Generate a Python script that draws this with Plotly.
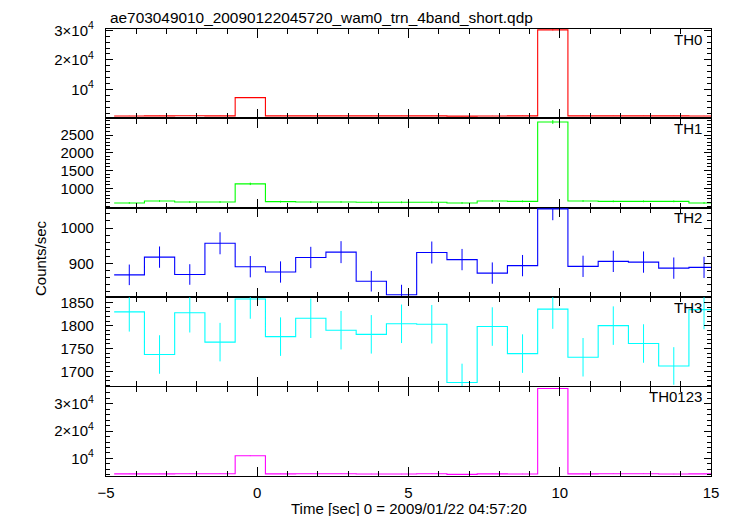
import numpy as np
import plotly.graph_objects as go

# ---------------- data ----------------
title_text = "ae703049010_20090122045720_wam0_trn_4band_short.qdp"
bin_width = 1.0
time_centers = [-4.23, -3.23, -2.23, -1.23, -0.23, 0.77, 1.77, 2.77, 3.77, 4.77,
                5.77, 6.77, 7.77, 8.77, 9.77, 10.77, 11.77, 12.77, 13.77, 14.77]

th0 = [1040, 1050, 1080, 1050, 7240, 1060, 1050, 1050, 1070, 1050,
       1050, 980, 1040, 1050, 30150, 1060, 1050, 1060, 1050, 1040]
th0_err = [32, 32, 33, 32, 85, 33, 32, 32, 33, 32, 32, 31, 32, 32, 174, 33, 32, 33, 32, 32]

th1 = [589, 643, 616, 616, 1125, 625, 616, 616, 607, 607,
       607, 589, 643, 634, 2866, 643, 634, 634, 634, 589]
th1_err = [24, 25, 25, 25, 34, 25, 25, 25, 25, 25, 25, 24, 25, 25, 54, 25, 25, 25, 25, 24]

th2 = [868, 918, 869, 957, 891, 876, 917, 932, 850, 812,
       931, 911, 873, 894, 1054, 892, 906, 904, 887, 889]
th2_err = [29, 30, 29, 31, 30, 30, 30, 31, 29, 28, 31, 30, 30, 30, 32, 30, 30, 30, 30, 30]

th3 = [1830, 1737, 1828, 1764, 1858, 1776, 1816, 1790, 1781, 1804,
       1803, 1676, 1798, 1739, 1836, 1731, 1800, 1761, 1712, 1835]
th3_err = [43, 42, 43, 42, 43, 42, 43, 42, 42, 42, 42, 41, 42, 42, 43, 42, 42, 42, 41, 43]

th0123 = [4327, 4348, 4393, 4387, 10950, 4337, 4399, 4388, 4308, 4273,
          4391, 4156, 4354, 4317, 35600, 4326, 4390, 4359, 4283, 4353]
th0123_err = [66, 66, 66, 66, 105, 66, 66, 66, 66, 65, 66, 64, 66, 66, 189, 66, 66, 66, 65, 66]

panel_names = ["TH0", "TH1", "TH2", "TH3", "TH0123"]
panel_values = [th0, th1, th2, th3, th0123]
panel_errors = [th0_err, th1_err, th2_err, th3_err, th0123_err]
panel_colors = ["#ff0000", "#00ff00", "#0000ff", "#00ffff", "#ff00ff"]
panel_ranges = [[207, 30450], [452, 2967], [805, 1057], [1667, 1862], [3560, 36290]]
panel_tickvals = [[10000, 20000, 30000], [1000, 1500, 2000, 2500], [900, 1000],
                  [1700, 1750, 1800, 1850], [10000, 20000, 30000]]
panel_ticktext = [["10<sup>4</sup>", "2×10<sup>4</sup>", "3×10<sup>4</sup>"],
                  ["1000", "1500", "2000", "2500"], ["900", "1000"],
                  ["1700", "1750", "1800", "1850"],
                  ["10<sup>4</sup>", "2×10<sup>4</sup>", "3×10<sup>4</sup>"]]
panel_minor = [2000, 100, 20, 10, 2000]
x_ticks = [-5, 0, 5, 10, 15]

x_label = "Time [sec] 0 = 2009/01/22 04:57:20"
y_label = "Counts/sec"

# ---------------- figure ----------------
W, H = 733, 516
ML, MR, MT, MB = 106, 22, 29, 40
FONT = "Liberation Sans, Arial, Helvetica, sans-serif"

fig = go.Figure()
n = len(panel_names)
t = np.array(time_centers)
hw = bin_width / 2.0
edges = np.append(t - hw, t[-1] + hw)

for i in range(n):
    xa = "x" if i == 0 else f"x{i+1}"
    ya = "y" if i == 0 else f"y{i+1}"
    v = np.array(panel_values[i], dtype=float)
    fig.add_trace(go.Scatter(
        x=edges, y=np.append(v, v[-1]), mode="lines", line_shape="hv",
        line=dict(color=panel_colors[i], width=1.1), xaxis=xa, yaxis=ya,
        showlegend=False, hoverinfo="skip"))
    fig.add_trace(go.Scatter(
        x=t, y=v, mode="markers",
        marker=dict(size=2, color=panel_colors[i], opacity=0),
        error_y=dict(type="data", array=panel_errors[i], width=0, thickness=1,
                     color=panel_colors[i]),
        xaxis=xa, yaxis=ya, showlegend=False, hoverinfo="skip"))

layout = dict(
    width=W, height=H,
    margin=dict(l=ML, r=MR, t=MT, b=MB, pad=0),
    paper_bgcolor="white", plot_bgcolor="white",
    font=dict(family=FONT, size=15, color="black"),
    showlegend=False,
)

h = 1.0 / n
axis_common = dict(showline=True, linecolor="black", linewidth=1.3, mirror="allticks",
                   ticks="inside", tickcolor="black", tickwidth=1.2, showgrid=False,
                   zeroline=False)

for i in range(n):
    xkey = "xaxis" if i == 0 else f"xaxis{i+1}"
    ykey = "yaxis" if i == 0 else f"yaxis{i+1}"
    ya = "y" if i == 0 else f"y{i+1}"
    xa = "x" if i == 0 else f"x{i+1}"
    top = 1.0 - i * h
    bottom = top - h
    layout[xkey] = dict(
        axis_common, domain=[0, 1], anchor=ya, range=[-5, 15],
        tickvals=x_ticks, ticklen=9,
        minor=dict(dtick=1, ticklen=5, ticks="inside", tickcolor="black", tickwidth=1.2),
        showticklabels=(i == n - 1),
        tickfont=dict(size=15, family=FONT), ticklabelstandoff=3,
        **({} if i == n - 1 else {"matches": "x" + str(n)}))
    layout[ykey] = dict(
        axis_common, domain=[max(bottom, 0), min(top, 1)], anchor=xa,
        range=panel_ranges[i], tickvals=panel_tickvals[i], ticktext=panel_ticktext[i],
        ticklen=7,
        minor=dict(dtick=panel_minor[i], ticklen=4, ticks="inside", tickcolor="black",
                   tickwidth=1.1),
        tickfont=dict(size=15, family=FONT), ticklabelstandoff=8)

fig.update_layout(**layout)

plot_h = H - MT - MB
annotations = [
    dict(text=title_text, xref="paper", yref="paper", x=(108 - ML) / (W - ML - MR),
         y=1 + (MT - 17) / plot_h, xanchor="left", yanchor="middle", showarrow=False,
         font=dict(size=15.4, family=FONT)),
    dict(text=x_label, xref="paper", yref="paper", x=0.5, y=-(508 - (H - MB)) / plot_h,
         xanchor="center", yanchor="middle", showarrow=False,
         font=dict(size=15, family=FONT)),
    dict(text=y_label, xref="paper", yref="paper", x=-(ML - 40) / (W - ML - MR),
         y=1 - (258 - MT) / plot_h, xanchor="center", yanchor="middle", textangle=-90,
         showarrow=False, font=dict(size=15, family=FONT)),
]
for i in range(n):
    xa = "x" if i == 0 else f"x{i+1}"
    ya = "y" if i == 0 else f"y{i+1}"
    annotations.append(dict(
        text=panel_names[i], xref=xa + " domain", yref=ya + " domain",
        x=(704 - ML) / (W - ML - MR), y=1, yshift=-10, xanchor="right", yanchor="middle",
        showarrow=False, font=dict(size=15, family=FONT)))
fig.update_layout(annotations=annotations)

fig.write_html("out.html", config={"displayModeBar": False},
               post_script="document.body.style.margin='0px';document.body.style.padding='0px';")
